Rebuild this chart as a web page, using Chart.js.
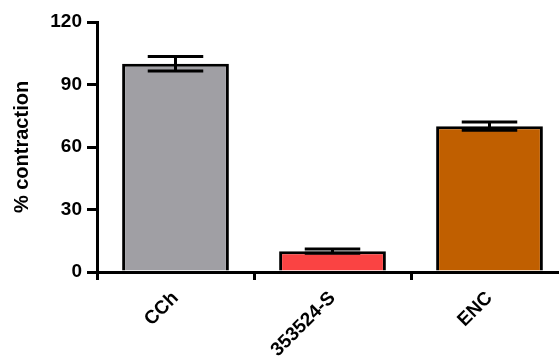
<!DOCTYPE html>
<html>
<head>
<meta charset="utf-8">
<script src="https://cdn.jsdelivr.net/npm/chart.js@4/dist/chart.umd.min.js"></script>
<style>
html,body{margin:0;padding:0;background:#fff;overflow:hidden;width:559px;height:356px;}
canvas{display:block;}
</style>
</head>
<body>
<canvas id="c" width="568" height="356"></canvas>
<script>
const categories = ["CCh", "353524-S", "ENC"];
const values = [100, 10, 70];
const errors = [3.5, 1, 2];
const barColors = ["#a09fa4", "#fa4343", "#c05f00"];
const yTicks = [0, 30, 60, 90, 120];

const errorBarPlugin = {
  id: 'errorBars',
  afterDatasetsDraw(chart) {
    const ctx = chart.ctx;
    const meta = chart.getDatasetMeta(0);
    const y = chart.scales.y;
    ctx.save();
    ctx.strokeStyle = '#000';
    ctx.lineWidth = 3;
    meta.data.forEach((bar, i) => {
      const v = values[i], e = errors[i];
      const top = y.getPixelForValue(v + e);
      const bot = y.getPixelForValue(v - e);
      const half = bar.width * 0.26;
      ctx.beginPath();
      ctx.moveTo(bar.x, top); ctx.lineTo(bar.x, bot);
      ctx.moveTo(bar.x - half, top); ctx.lineTo(bar.x + half, top);
      ctx.moveTo(bar.x - half, bot); ctx.lineTo(bar.x + half, bot);
      ctx.stroke();
    });
    ctx.restore();
  }
};

new Chart(document.getElementById('c'), {
  type: 'bar',
  data: {
    labels: categories,
    datasets: [{
      data: values,
      backgroundColor: barColors,
      borderColor: '#000',
      borderWidth: 3,
      barPercentage: 0.68,
      categoryPercentage: 1
    }]
  },
  plugins: [errorBarPlugin],
  options: {
    responsive: false,
    animation: false,
    layout: { padding: { top: 22, left: 0, right: 0, bottom: 0 } },
    plugins: { legend: { display: false }, tooltip: { enabled: false } },
    scales: {
      x: {
        afterFit(s) { s.height = 84; },
        grid: { display: true, drawOnChartArea: false, drawTicks: true, tickLength: 8, color: '#000', lineWidth: 3 },
        border: { display: true, color: '#000', width: 3 },
        ticks: {
          color: '#000',
          font: { family: 'Liberation Sans, Arial', size: 19, weight: 'bold' },
          minRotation: 45, maxRotation: 45, padding: 7
        }
      },
      y: {
        min: 0, max: 120,
        afterFit(s) { s.width = 97; },
        afterBuildTicks(s) { s.ticks = yTicks.map(v => ({ value: v })); },
        grid: { display: true, drawOnChartArea: false, drawTicks: true, tickLength: 10, color: '#000', lineWidth: 3 },
        border: { display: true, color: '#000', width: 3 },
        ticks: {
          color: '#000',
          padding: 5,
          font: { family: 'Liberation Sans, Arial', size: 19, weight: 'bold' }
        },
        title: {
          display: true,
          text: '% contraction',
          color: '#000',
          font: { family: 'Liberation Sans, Arial', size: 20, weight: 'bold' },
          padding: { top: 10, bottom: 0 }
        }
      }
    }
  }
});
</script>
</body>
</html>
